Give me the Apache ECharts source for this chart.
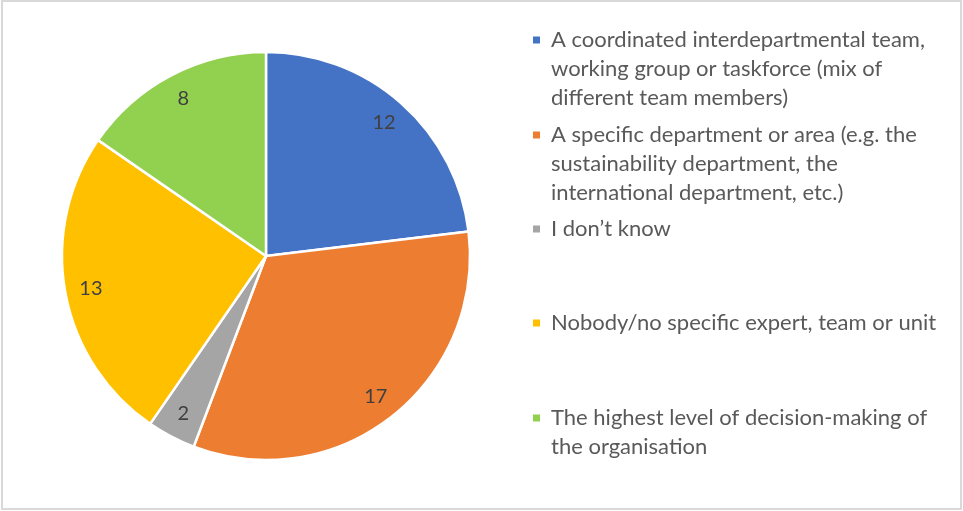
<!DOCTYPE html>
<html>
<head>
<meta charset="utf-8">
<script src="https://cdn.jsdelivr.net/npm/echarts@6/dist/echarts.min.js"></script>
<style>
  html, body { margin: 0; padding: 0; background: #fff; }
  #container { width: 963px; height: 511px; }
</style>
</head>
<body>
<div id="container"></div>
<script>
var categories = [
  'A coordinated interdepartmental team, working group or taskforce (mix of different team members)',
  'A specific department or area (e.g. the sustainability department, the international department, etc.)',
  'I don\u2019t know',
  'Nobody/no specific expert, team or unit',
  'The highest level of decision-making of the organisation'
];
// how the legend text wraps in the picture
var legendLines = [
  ['A coordinated interdepartmental team,', 'working group or taskforce (mix of', 'different team members)'],
  ['A specific department or area (e.g. the', 'sustainability department, the', 'international department, etc.)'],
  ['I don\u2019t know'],
  ['Nobody/no specific expert, team or unit'],
  ['The highest level of decision-making of', 'the organisation']
];
var values = [12, 17, 2, 13, 8];
var colors = ['#4472C4', '#ED7D31', '#A5A5A5', '#FFC000', '#92D050'];

var fontFam = 'Lato, "Open Sans", sans-serif';
var lineH = 29;

var pieData = [];
for (var i = 0; i < categories.length; i++) {
  pieData.push({ name: categories[i], value: values[i], itemStyle: { color: colors[i] } });
}

// centre of the first text line of each legend entry
var legendCenters = [40, 135, 229, 323, 418];
var legends = [];
for (var k = 0; k < categories.length; k++) {
  var n = legendLines[k].length;
  legends.push({
    data: [categories[k]],
    left: 531,
    top: legendCenters[k] - lineH / 2 - lineH * (n - 1),
    padding: 0,
    orient: 'vertical',
    icon: 'rect',
    itemWidth: 9,
    itemHeight: 9,
    itemGap: 0,
    selectedMode: false,
    // blank lines in front so the marker (centred on the text) sits on the first line
    formatter: (function (idx) {
      return function () {
        var pre = [];
        for (var b = 1; b < legendLines[idx].length; b++) pre.push(' ');
        return pre.concat(legendLines[idx]).join('\n');
      };
    })(k),
    textStyle: {
      fontFamily: fontFam,
      fontSize: 22,
      color: '#595959',
      lineHeight: lineH,
      padding: [0, 0, 0, 5]
    }
  });
}

var dom = document.getElementById('container');
var myChart = echarts.init(dom);

var option = {
  animation: false,
  backgroundColor: '#ffffff',
  legend: legends,
  graphic: [
    {
      type: 'rect',
      shape: { x: 2, y: 1, width: 959, height: 508 },
      style: { fill: 'none', stroke: '#d9d9d9', lineWidth: 2 },
      silent: true
    }
  ],
  series: [
    {
      name: 'main',
      type: 'pie',
      center: [266, 256],
      radius: [0, 204],
      startAngle: 90,
      clockwise: true,
      avoidLabelOverlap: false,
      data: pieData,
      itemStyle: { borderColor: '#ffffff', borderWidth: 2.5 },
      label: { show: false },
      labelLine: { show: false },
      emphasis: { disabled: true }
    },
    {
      // transparent ring only used to place the value labels near the rim
      name: 'labels',
      type: 'pie',
      center: [266, 256],
      radius: [146, 204],
      startAngle: 90,
      clockwise: true,
      silent: true,
      avoidLabelOverlap: false,
      data: pieData.map(function (d) {
        return { name: d.name, value: d.value, itemStyle: { color: 'rgba(0,0,0,0)' } };
      }),
      itemStyle: { borderWidth: 0 },
      label: {
        show: true,
        position: 'inside',
        formatter: '{c}',
        fontFamily: fontFam,
        fontSize: 20,
        color: '#404040'
      },
      labelLine: { show: false },
      emphasis: { disabled: true }
    }
  ]
};

myChart.setOption(option);
</script>
</body>
</html>
